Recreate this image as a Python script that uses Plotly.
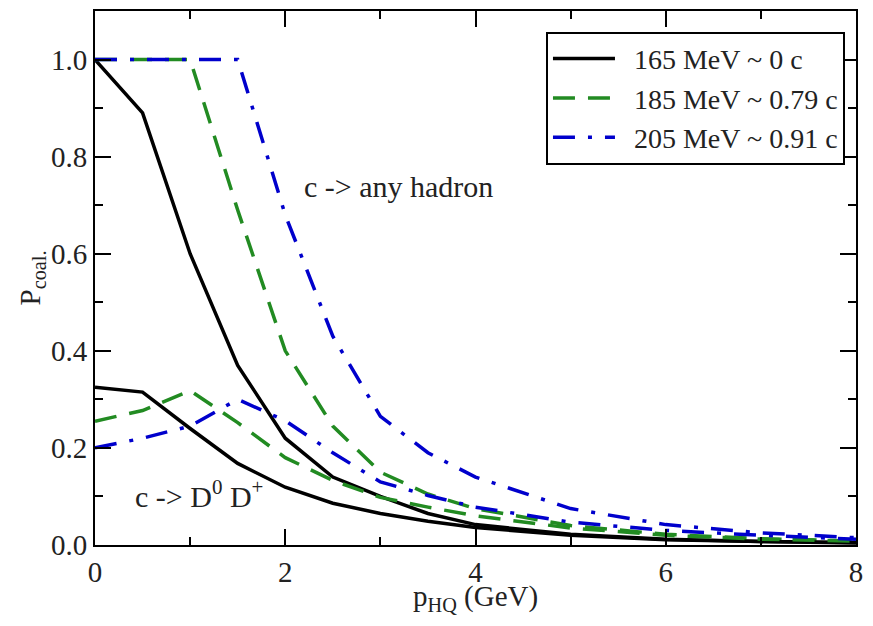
import plotly.graph_objects as go

# p_HQ (GeV) grid points
p_hq = [0, 0.5, 1.0, 1.5, 2.0, 2.5, 3.0, 3.5, 4.0, 5.0, 6.0, 7.0, 8.0]

# c -> any hadron
any_165 = [1.0, 0.89, 0.60, 0.37, 0.22, 0.14, 0.10, 0.065, 0.042, 0.022, 0.012, 0.007, 0.004]
any_185 = [1.0, 1.0, 1.0, 0.69, 0.40, 0.245, 0.15, 0.105, 0.075, 0.040, 0.022, 0.013, 0.008]
any_205 = [1.0, 1.0, 1.0, 1.0, 0.68, 0.43, 0.265, 0.19, 0.14, 0.075, 0.042, 0.025, 0.015]

# c -> D0 D+
dd_165 = [0.325, 0.315, 0.24, 0.168, 0.119, 0.086, 0.065, 0.049, 0.036, 0.020, 0.011, 0.007, 0.005]
dd_185 = [0.255, 0.277, 0.318, 0.252, 0.18, 0.133, 0.098, 0.078, 0.060, 0.035, 0.020, 0.012, 0.008]
dd_205 = [0.20, 0.22, 0.245, 0.30, 0.256, 0.19, 0.13, 0.102, 0.078, 0.047, 0.030, 0.020, 0.012]

labels = ["165 MeV ~ 0 c", "185 MeV ~ 0.79 c", "205 MeV ~ 0.91 c"]
colors = ["black", "#228b22", "#0000cc"]
dashes = ["solid", "22px,13px", "22px,13px,4px,13px"]

FONT = "Liberation Serif"
TXT = "#222"
PAD = "\u00a0\u00a0"  # small gap between legend line sample and its text

fig = go.Figure()
for ys, lab, col, dsh in zip([any_165, any_185, any_205], labels, colors, dashes):
    fig.add_trace(go.Scatter(x=p_hq, y=ys, mode="lines", name=PAD + lab,
                             line=dict(color=col, width=3.5, dash=dsh)))
for ys, lab, col, dsh in zip([dd_165, dd_185, dd_205], labels, colors, dashes):
    fig.add_trace(go.Scatter(x=p_hq, y=ys, mode="lines", name=lab, showlegend=False,
                             line=dict(color=col, width=3.5, dash=dsh)))

axis_common = dict(showline=True, linecolor="black", linewidth=2, mirror="ticks",
                   ticks="inside", ticklen=16, tickwidth=2, tickcolor="black",
                   showgrid=False, zeroline=False, ticklabeloverflow="allow",
                   tickfont=dict(family=FONT, size=29, color=TXT))

fig.update_xaxes(range=[0, 8], dtick=2,
                 minor=dict(dtick=1, ticks="inside", ticklen=8, tickwidth=2, tickcolor="black"),
                 **axis_common)
fig.update_yaxes(range=[0, 1.1], dtick=0.2, tickformat=".1f",
                 minor=dict(dtick=0.1, ticks="inside", ticklen=8, tickwidth=2, tickcolor="black"),
                 title=dict(text="P<sub>coal.</sub>", font=dict(family=FONT, size=29, color=TXT),
                            standoff=2),
                 **axis_common)

# x title as a paper annotation just under the tick labels
fig.add_annotation(x=0.5, y=0, xref="paper", yref="paper", xanchor="center", yanchor="top",
                   yshift=-33, showarrow=False,
                   text="p<sub>HQ</sub> (GeV)", font=dict(family=FONT, size=29, color=TXT))
fig.add_annotation(x=2.18, y=0.738, xanchor="left", yanchor="middle", showarrow=False,
                   text="c -&gt; any hadron", font=dict(family=FONT, size=30, color=TXT))
fig.add_annotation(x=0.40, y=0.105, xanchor="left", yanchor="middle", showarrow=False,
                   text="c -&gt; D<sup>0</sup> D<sup>+</sup>", font=dict(family=FONT, size=30, color=TXT))

# page body adds an 8px margin, so the figure is sized to fit inside the window
fig.update_layout(
    width=865, height=610,
    margin=dict(l=87, r=17, t=1, b=73),
    plot_bgcolor="white", paper_bgcolor="white",
    legend=dict(x=0.9855, y=0.961, xanchor="right", yanchor="top",
                bordercolor="black", borderwidth=2, bgcolor="white",
                font=dict(family=FONT, size=28, color=TXT),
                itemwidth=62, tracegroupgap=0),
)

fig.write_html("out.html")
